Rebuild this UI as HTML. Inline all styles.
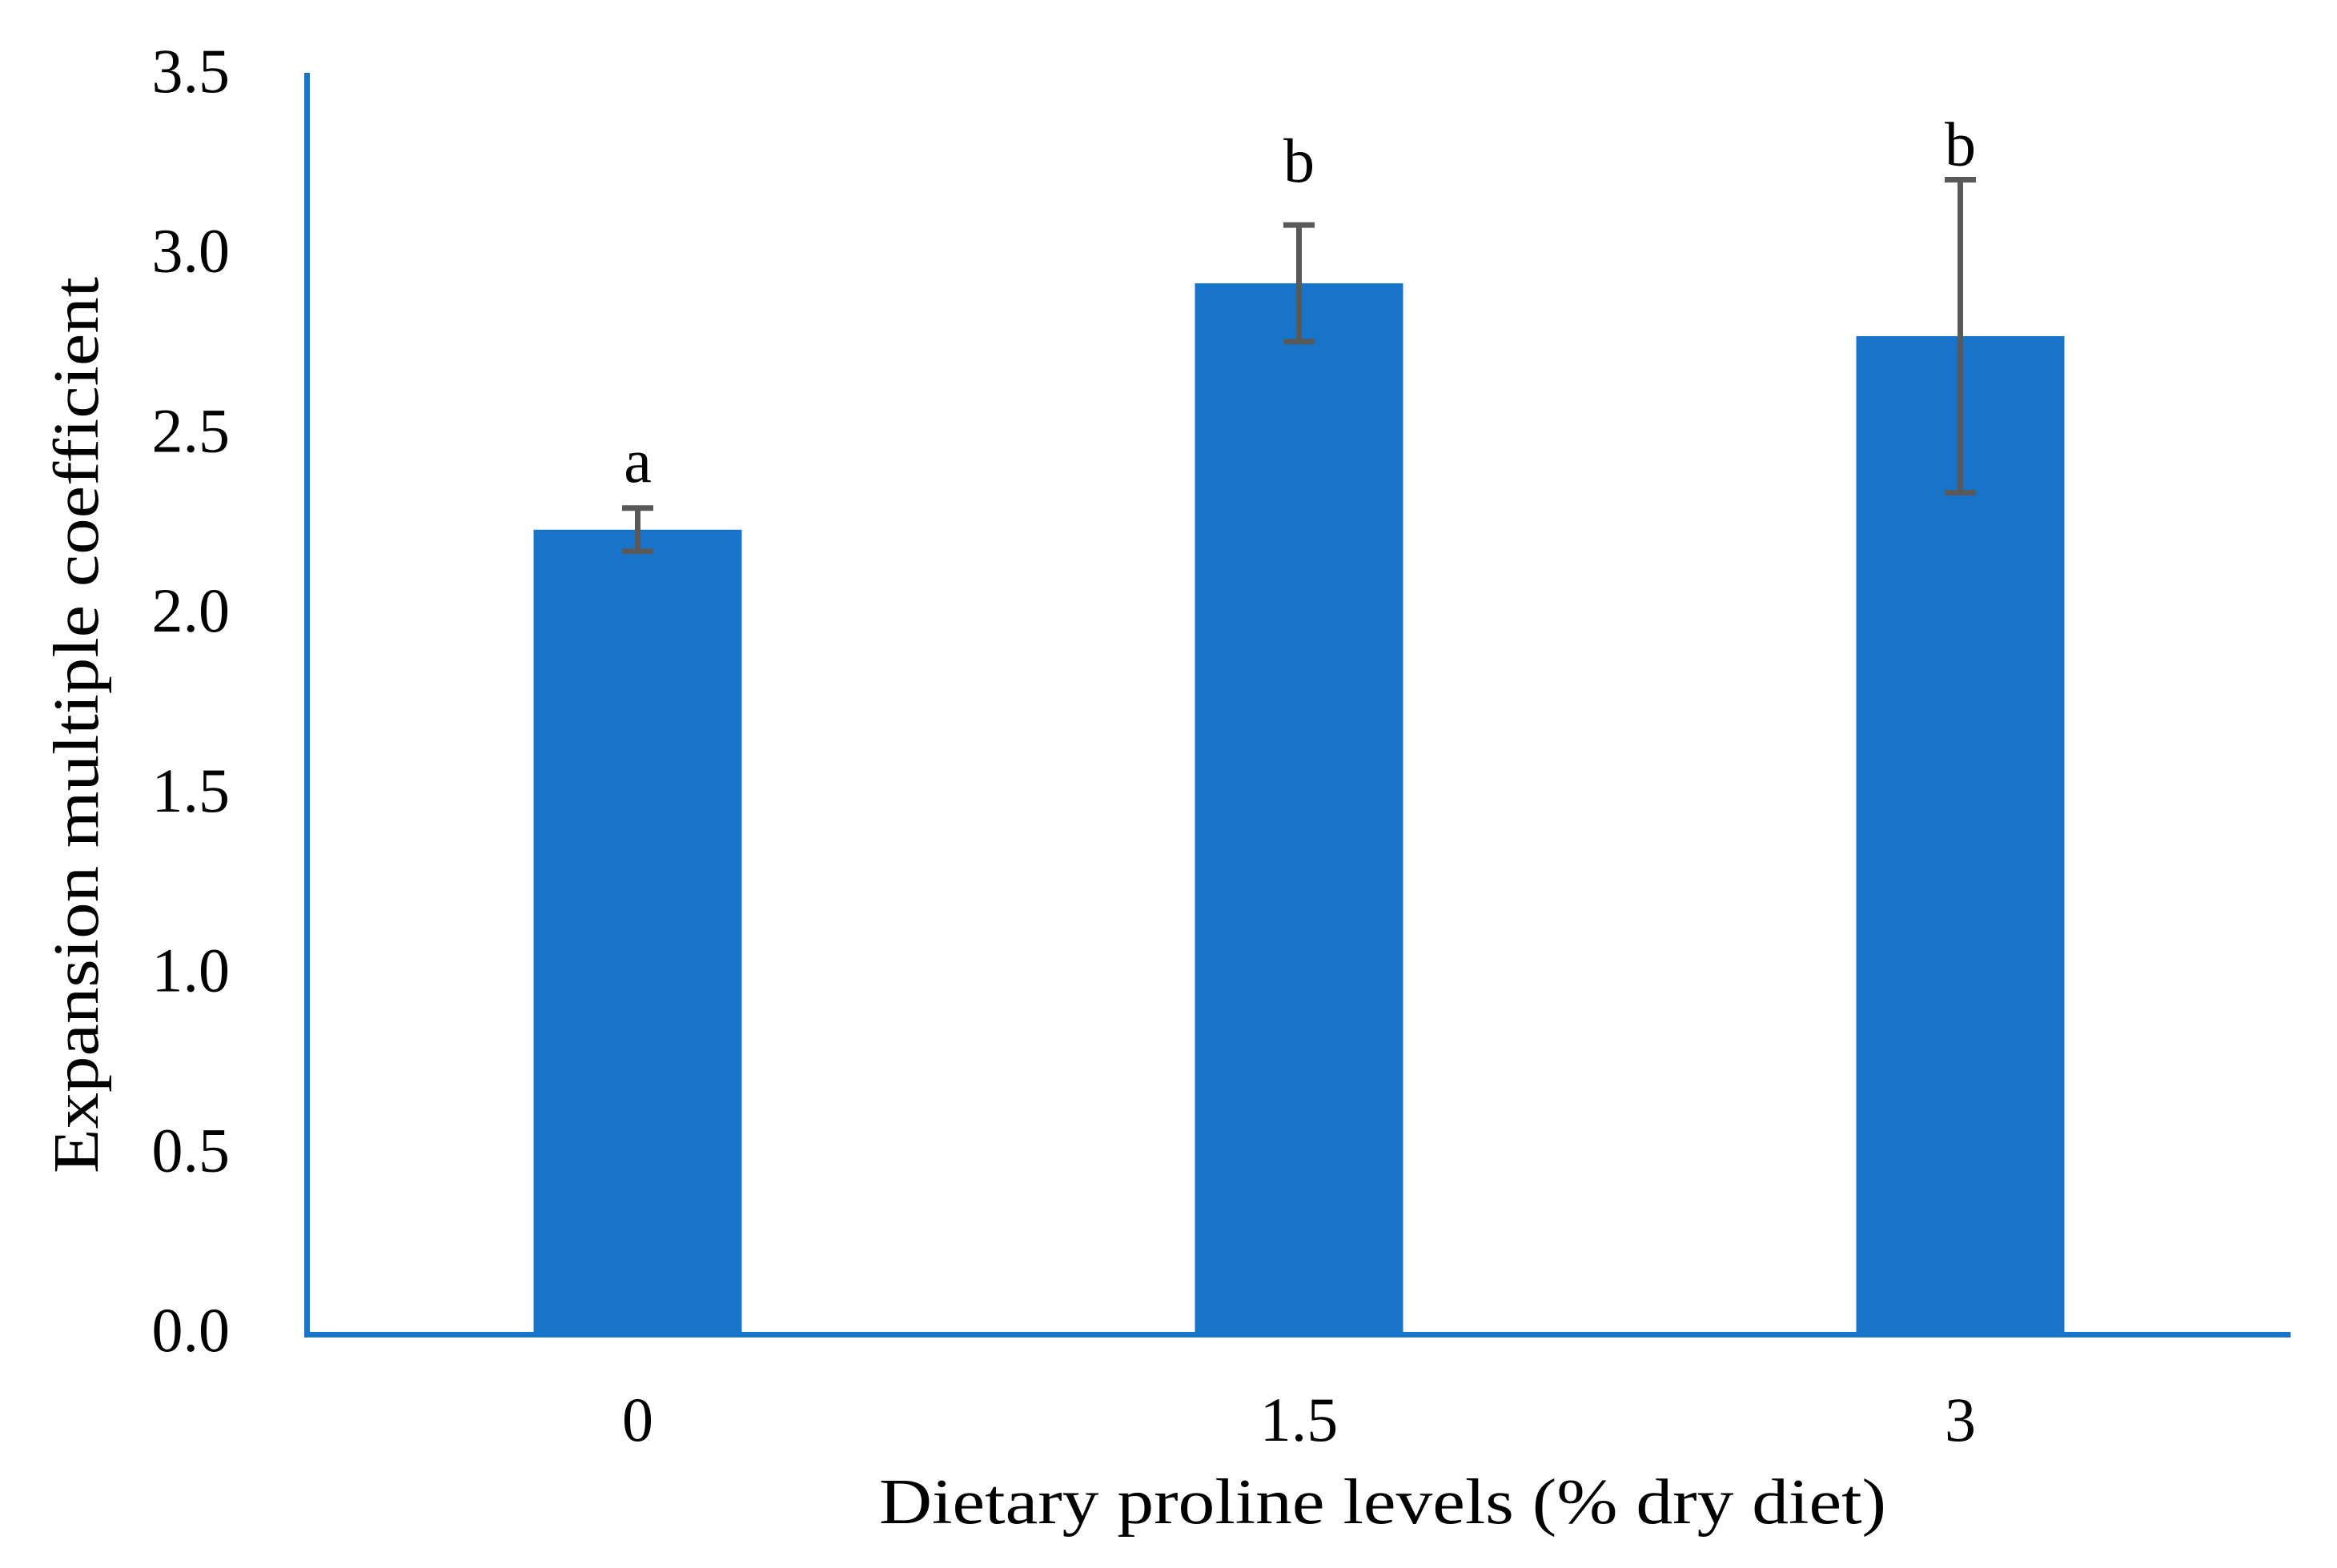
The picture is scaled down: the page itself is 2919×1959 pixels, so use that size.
<!DOCTYPE html>
<html><head><meta charset="utf-8"><style>
html,body{margin:0;padding:0;background:#fff;}
svg{display:block;}
text{font-family:"Liberation Serif",serif;fill:#000;}
</style></head><body>
<svg id="chart" width="2919" height="1959" viewBox="0 0 2919 1959" xmlns="http://www.w3.org/2000/svg">
<g id="bars"></g>
<g id="errs"></g>
<g id="letters"></g>
<g id="yticks"></g>
<g id="xticks"></g>
<line x1="383.5" y1="91" x2="383.5" y2="1671" stroke="#1874c9" stroke-width="7"/>
<line x1="380" y1="1667.5" x2="2861" y2="1667.5" stroke="#1874c9" stroke-width="7"/>
<text x="1727" y="1903" font-size="80" text-anchor="middle" textLength="1258" lengthAdjust="spacingAndGlyphs">Dietary proline levels (% dry diet)</text>
<text transform="translate(122,906) rotate(-90)" font-size="80" text-anchor="middle" textLength="1120" lengthAdjust="spacingAndGlyphs">Expansion multiple coefficient</text>
</svg>
<script>
const categories = ["0", "1.5", "3"];
const values = [2.23, 2.915, 2.768];
const errors = [0.06, 0.162, 0.435];
const letters = ["a", "b", "b"];
const yTicks = [0, 0.5, 1, 1.5, 2, 2.5, 3, 3.5];
const yTickLabels = ["0.0", "0.5", "1.0", "1.5", "2.0", "2.5", "3.0", "3.5"];

const NS = "http://www.w3.org/2000/svg";
const x0 = 383.5, band = 826, barW = 260;
const yZero = 1664, yTop = 91, yMax = 3.5;
const letterGap = [33, 54, 18];
function xScale(i){ return x0 + band * (i + 0.5); }
function yScale(v){ return yZero - (yZero - yTop) * v / yMax; }
function mk(tag, attrs, parent){
  const el = document.createElementNS(NS, tag);
  for (const k in attrs) el.setAttribute(k, attrs[k]);
  parent.appendChild(el);
  return el;
}
const gb = document.getElementById("bars");
const ge = document.getElementById("errs");
const gl = document.getElementById("letters");
const gy = document.getElementById("yticks");
const gx = document.getElementById("xticks");

yTicks.forEach((v, i) => {
  const t = mk("text", {x: 287, y: yScale(v) + 24, "font-size": 78, "text-anchor": "end"}, gy);
  
  
  t.textContent = yTickLabels[i];
});

categories.forEach((c, i) => {
  const cx = xScale(i);
  const r = mk("rect", {x: cx - barW/2, y: yScale(values[i]), width: barW, height: yZero - yScale(values[i]), fill: "#1874c9"}, gb);
  
  

  const hi = yScale(values[i] + errors[i]), lo = yScale(values[i] - errors[i]);
  const g = mk("g", {stroke: "#595959", "stroke-width": 7}, ge);
  
  
  mk("line", {x1: cx, y1: hi, x2: cx, y2: lo}, g);
  mk("line", {x1: cx - 19.5, y1: hi, x2: cx + 19.5, y2: hi}, g);
  mk("line", {x1: cx - 19.5, y1: lo, x2: cx + 19.5, y2: lo}, g);

  const lt = mk("text", {x: cx, y: hi - letterGap[i], "font-size": 78, "text-anchor": "middle"}, gl);
  
  
  lt.textContent = letters[i];

  const xt = mk("text", {x: cx, y: 1800, "font-size": 78, "text-anchor": "middle"}, gx);
  
  
  xt.textContent = c;
});
</script>
</body></html>
